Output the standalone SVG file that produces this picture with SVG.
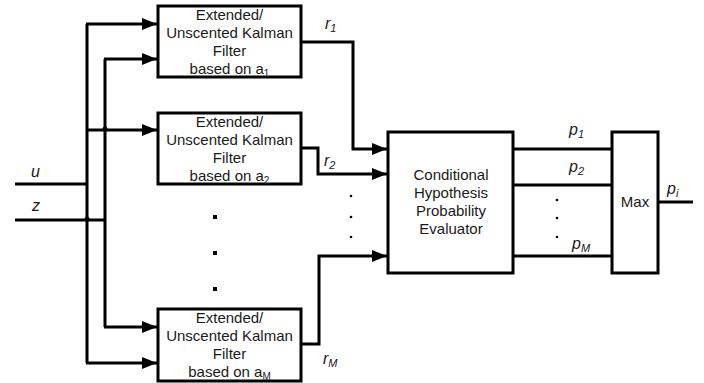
<svg xmlns="http://www.w3.org/2000/svg" width="704" height="383" viewBox="0 0 704 383">
<style>
.box{fill:#fff;stroke:#000;stroke-width:3}
.ln{fill:none;stroke:#000;stroke-width:3}
.arr{marker-end:url(#ah)}
.t{font-family:"Liberation Sans",Arial,sans-serif;font-size:15px;fill:#1a1a1a;text-anchor:middle}
.i{font-family:"Liberation Sans",Arial,sans-serif;font-size:16px;font-style:italic;fill:#1a1a1a}
.sub{font-size:10px}
.isub{font-size:11px}
</style>
<defs>
<marker id="ah" markerUnits="userSpaceOnUse" markerWidth="16" markerHeight="12" refX="15" refY="6" orient="auto">
<path d="M0,0 L15,6 L0,12 z" fill="#000"/>
</marker>
</defs>
<rect width="704" height="383" fill="#fff"/>
<g id="connectors">
<path class="ln" d="M15,184 H87"/>
<path class="ln" d="M15,220 H105"/>
<path class="ln" d="M87,363 V24"/>
<path class="ln arr" d="M86,24 H157"/>
<path class="ln arr" d="M86,130 H157"/>
<path class="ln arr" d="M86,363 H157"/>
<path class="ln" d="M105,327 V59"/>
<path class="ln arr" d="M104,59 H157"/>
<path class="ln arr" d="M104,327 H157"/>
<circle cx="87" cy="219" r="2.5" fill="#000"/>
<circle cx="105" cy="129" r="2.5" fill="#000"/>
<path class="ln arr" d="M301,42 H353 V149 H387"/>
<path class="ln arr" d="M301,148 H318 V174 H387"/>
<path class="ln arr" d="M301,344 H319 V256 H387"/>
<path class="ln" d="M513,149 H612"/>
<path class="ln" d="M513,185 H612"/>
<path class="ln" d="M513,256 H612"/>
<path class="ln" d="M658,202 H693"/>
<rect x="213" y="215" width="4" height="4" fill="#000"/>
<rect x="213" y="251" width="4" height="4" fill="#000"/>
<rect x="213" y="287" width="4" height="4" fill="#000"/>
<circle cx="351" cy="196" r="1.3" fill="#000"/>
<circle cx="351" cy="217" r="1.3" fill="#000"/>
<circle cx="351" cy="237" r="1.3" fill="#000"/>
<circle cx="557" cy="200" r="1.3" fill="#000"/>
<circle cx="557" cy="218" r="1.3" fill="#000"/>
<circle cx="557" cy="237" r="1.3" fill="#000"/>
<text class="i" x="31" y="177">u</text>
<text class="i" x="32" y="211">z</text>
<text class="i" x="325" y="29">r<tspan class="isub" dy="3">1</tspan></text>
<text class="i" x="324" y="166">r<tspan class="isub" dy="3">2</tspan></text>
<text class="i" x="323" y="364">r<tspan class="isub" dy="3">M</tspan></text>
<text class="i" x="569" y="135">p<tspan class="isub" dy="3">1</tspan></text>
<text class="i" x="569" y="172">p<tspan class="isub" dy="3">2</tspan></text>
<text class="i" x="572" y="249">p<tspan class="isub" dy="3">M</tspan></text>
<text class="i" x="667" y="194">p<tspan class="isub" dy="3">i</tspan></text>
</g>
<g id="filter1">
<rect class="box" x="158" y="6" width="143" height="71"/>
<text class="t" x="229.5" y="20">Extended/</text>
<text class="t" x="229.5" y="38">Unscented Kalman</text>
<text class="t" x="229.5" y="56">Filter</text>
<text class="t" x="229.5" y="74">based on a<tspan class="sub" dy="3">1</tspan></text>
</g>
<g id="filter2">
<rect class="box" x="158" y="113" width="143" height="71"/>
<text class="t" x="229.5" y="127">Extended/</text>
<text class="t" x="229.5" y="145">Unscented Kalman</text>
<text class="t" x="229.5" y="163">Filter</text>
<text class="t" x="229.5" y="181">based on a<tspan class="sub" dy="3">2</tspan></text>
</g>
<g id="filterM">
<rect class="box" x="158" y="309" width="143" height="72"/>
<text class="t" x="229.5" y="323">Extended/</text>
<text class="t" x="229.5" y="341">Unscented Kalman</text>
<text class="t" x="229.5" y="359">Filter</text>
<text class="t" x="229.5" y="377">based on a<tspan class="sub" dy="3">M</tspan></text>
</g>
<g id="evaluator">
<rect class="box" x="388" y="132" width="125" height="141"/>
<text class="t" x="451" y="180">Conditional</text>
<text class="t" x="451" y="198">Hypothesis</text>
<text class="t" x="451" y="216">Probability</text>
<text class="t" x="451" y="234">Evaluator</text>
</g>
<g id="max">
<rect class="box" x="612" y="132" width="46" height="141"/>
<text class="t" x="635" y="207">Max</text>
</g>
</svg>
